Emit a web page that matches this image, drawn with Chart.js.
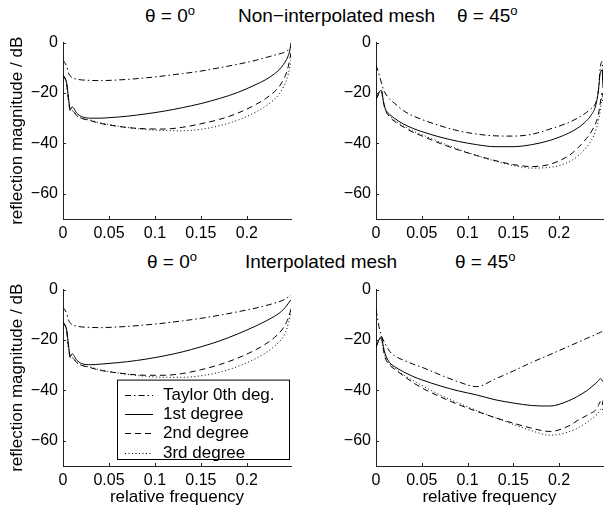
<!DOCTYPE html>
<html>
<head>
<meta charset="utf-8">
<script src="https://cdn.jsdelivr.net/npm/chart.js@4.4.0/dist/chart.umd.min.js"></script>
<style>
  body { margin: 0; background: #fff; }
  #fig { position: relative; width: 604px; height: 514px; font-family: "Liberation Sans", Arial, sans-serif; color: #000; }
  .panel { position: absolute; }
  .t { position: absolute; font-size: 19px; line-height: 20px; white-space: nowrap; }
  .t sup { font-size: 13px; vertical-align: 7px; line-height: 0; }
</style>
</head>
<body>
<div id="fig">
  <span class="t" style="left:145px;top:6px">θ = 0<sup>o</sup></span>
  <span class="t" style="left:238px;top:6px">Non−interpolated mesh</span>
  <span class="t" style="left:457px;top:6px">θ = 45<sup>o</sup></span>
  <span class="t" style="left:147px;top:252px">θ = 0<sup>o</sup></span>
  <span class="t" style="left:245px;top:252px">Interpolated mesh</span>
  <span class="t" style="left:455px;top:252px">θ = 45<sup>o</sup></span>

  <canvas class="panel" id="nonInt0" width="300" height="220" style="left:0;top:28px"></canvas>
  <canvas class="panel" id="nonInt45" width="304" height="220" style="left:300px;top:28px"></canvas>
  <canvas class="panel" id="int0" width="300" height="239" style="left:0;top:275px"></canvas>
  <canvas class="panel" id="int45" width="304" height="239" style="left:300px;top:275px"></canvas>
</div>

<script>
// relative frequency samples shared by all panels
const freq = [0, 0.002, 0.004, 0.006, 0.008, 0.01, 0.015, 0.02, 0.03, 0.04, 0.05, 0.07, 0.09, 0.11,
  0.13, 0.15, 0.17, 0.19, 0.21, 0.22, 0.23, 0.235, 0.24, 0.243, 0.245, 0.247, 0.248];

const seriesNames = ["Taylor 0th deg.", "1st degree", "2nd degree", "3rd degree"];
const xTicks = [0, 0.05, 0.1, 0.15, 0.2];
const yTicks = [-60, -40, -20, 0];

// non-interpolated mesh, theta = 0
const taylorNi0 = [-7, -8, -9.5, -12, -13.3, -14, -14.5, -14.8, -15, -15.1, -15, -14.6, -14, -13.2,
  -12.3, -11.3, -10, -8.6, -7, -6, -5, -4.5, -4, -3.4, -2.9, -2.2, -1.8];
const firstNi0 = [-13, -14, -16, -22, -26.5, -25.5, -28, -29.3, -30, -30, -29.8, -29.2, -28.3, -27.2,
  -25.8, -24.2, -22.2, -19.8, -16.6, -14.8, -12.4, -10.8, -8.6, -6.8, -5.2, -2.5, 0];
const secondNi0 = [-13, -14, -16.5, -23, -27, -27, -29, -30, -31, -32, -32.7, -33.7, -34.2, -34.3,
  -33.6, -32.2, -30.5, -28, -24.5, -22.3, -19.5, -17.5, -14.5, -12, -9.5, -6, -4];
const thirdNi0 = [-13, -14, -16.5, -23, -27, -27, -29, -30, -30.8, -31.8, -32.5, -33.7, -34.5, -34.9,
  -35, -34.4, -33, -30.8, -27.5, -25.3, -22.5, -20.5, -17.5, -15, -12.5, -9, -7];

// non-interpolated mesh, theta = 45
const taylorNi45 = [-9, -11, -13.5, -16, -18.5, -20, -22.5, -24, -27, -29, -30.5, -33, -35, -36.3,
  -37, -37.1, -36.4, -34.3, -31.8, -30, -27.7, -26.2, -24, -19, -10, -7.5, -16];
const firstNi45 = [-22.5, -21, -19.3, -19, -23, -26, -28.5, -30, -32.3, -34, -35.3, -37.5, -39.2, -40.5,
  -41.3, -41.3, -40.5, -38.8, -36, -34, -31, -28.8, -25, -19, -12, -11, -18];
const secondNi45 = [-22.5, -21, -19.5, -19.5, -23.5, -26.5, -29.5, -31.2, -33.5, -35.5, -37, -40, -42.6, -44.8,
  -46.8, -48.4, -49.2, -48.3, -45, -42, -38, -35.5, -32, -28.5, -24, -20, -22];
const thirdNi45 = [-22.5, -21, -19.5, -19.5, -23.5, -26.5, -29, -30.7, -33, -35, -36.5, -39.5, -42.3, -44.8,
  -47, -48.8, -49.8, -49.5, -47.5, -45.2, -41.5, -39, -35, -31, -27, -22, -24];

// interpolated mesh, theta = 0
const taylorIn0 = [-7, -8, -9.5, -12, -13.3, -14, -14.5, -14.8, -15, -15.1, -15, -14.6, -14, -13.3,
  -12.4, -11.4, -10.2, -8.8, -7.3, -6.4, -5.4, -4.8, -4.1, -3.5, -3, -2.5, -2.2];
const firstIn0 = [-13, -14, -16, -22, -26.5, -25.5, -28, -29.3, -29.8, -29.6, -29.3, -28.6, -27.6, -26.3,
  -24.7, -22.7, -20.4, -17.6, -14.4, -12.6, -10.6, -9.4, -7.8, -6.5, -5.5, -4.5, -4];
const secondIn0 = [-13, -14, -16.5, -23, -27, -27, -29, -30, -31, -32, -32.6, -33.5, -34, -34,
  -33.3, -31.8, -29.8, -27.2, -23.8, -21.7, -19, -17.3, -15, -13, -11.3, -9, -7.5];
const thirdIn0 = [-13, -14, -16.5, -23, -27, -27, -29, -30, -30.8, -31.8, -32.5, -33.6, -34.4, -34.8,
  -34.8, -34.2, -32.8, -30.5, -27.3, -25.2, -22.5, -20.8, -18.5, -16, -13.5, -10.5, -8.5];

// interpolated mesh, theta = 45
const taylorIn45 = [-8, -12, -16, -18.5, -20, -21.5, -24.5, -26.2, -28, -29.5, -30.8, -33.8, -36.6, -38.5,
  -35.5, -32.3, -28.9, -25.8, -22.6, -21, -19.4, -18.6, -17.8, -17.3, -17, -16.6, -16.4];
const firstIn45 = [-22.9, -21, -19.3, -18.7, -22.5, -25.5, -29, -30.5, -32.6, -34.4, -35.8, -38.2, -40.2, -41.8,
  -43.7, -45, -46, -46.2, -44.2, -42.4, -40.2, -38.8, -37.2, -36.2, -35.3, -36, -36.6];
const secondIn45 = [-22.9, -21, -19.5, -19.5, -23.5, -27, -30, -31.5, -34.2, -36.8, -39, -42.5, -45.6, -48.3,
  -50.8, -53, -55, -56.3, -54.2, -52, -50, -49, -47.8, -46, -44.5, -46, -44];
const thirdIn45 = [-22.9, -21, -19.5, -19.5, -23.5, -26.5, -29.5, -31, -33.8, -36, -38, -41.8, -45, -48,
  -50.8, -53.5, -56, -57.8, -56.5, -55, -52.8, -51.5, -50, -49, -47.5, -48, -47];

const dashes = [[6, 3, 1.5, 3], [], [6, 4], [1, 2.5]];
const fontFamily = '"Liberation Sans", Arial, sans-serif';

// small tick marks pointing into the plot, like the original
const innerTicks = {
  id: "innerTicks",
  afterDraw(chart) {
    const { ctx, chartArea, scales } = chart;
    ctx.save();
    ctx.strokeStyle = "#222";
    ctx.lineWidth = 1;
    ctx.beginPath();
    scales.x.ticks.forEach((t) => {
      const px = Math.round(scales.x.getPixelForValue(t.value)) + 0.5;
      ctx.moveTo(px, chartArea.bottom);
      ctx.lineTo(px, chartArea.bottom - 3);
    });
    scales.y.ticks.forEach((t) => {
      const py = Math.round(scales.y.getPixelForValue(t.value)) + 0.5;
      ctx.moveTo(chartArea.left, py);
      ctx.lineTo(chartArea.left + 3, py);
    });
    ctx.stroke();
    ctx.restore();
  },
};

// boxed legend inside the plot area
const boxLegend = {
  id: "boxLegend",
  afterDraw(chart, args, opts) {
    if (!opts.show) return;
    const { ctx, chartArea } = chart;
    const left = chartArea.left + 54;
    const right = chartArea.right - 2;
    const top = chartArea.top + 90;
    const bottom = chartArea.bottom - 7;
    ctx.save();
    ctx.fillStyle = "#fff";
    ctx.fillRect(left, top, right - left, bottom - top);
    ctx.strokeStyle = "#000";
    ctx.lineWidth = 1;
    ctx.strokeRect(left + 0.5, top + 0.5, right - left, bottom - top);
    ctx.font = "17px " + fontFamily;
    ctx.textBaseline = "middle";
    chart.data.datasets.forEach((ds, i) => {
      const y = Math.round(top + 15 + i * 19.3) + 0.5;
      ctx.setLineDash(ds.borderDash);
      ctx.beginPath();
      ctx.moveTo(left + 8, y);
      ctx.lineTo(left + 36, y);
      ctx.stroke();
      ctx.setLineDash([]);
      ctx.fillStyle = "#000";
      ctx.fillText(ds.label, left + 46, y);
    });
    ctx.restore();
  },
};

function makePanel(id, values, opt) {
  const ctx = document.getElementById(id).getContext("2d");
  return new Chart(ctx, {
    type: "line",
    data: {
      datasets: values.map((v, i) => ({
        label: seriesNames[i],
        data: freq.map((f, j) => ({ x: f, y: v[j] })),
        borderColor: "#000",
        borderWidth: 1,
        borderDash: dashes[i],
        pointRadius: 0,
        fill: false,
        cubicInterpolationMode: "monotone",
      })),
    },
    options: {
      responsive: false,
      animation: false,
      events: [],
      layout: { padding: { top: 12, right: opt.right, left: 0, bottom: 0 } },
      plugins: {
        legend: { display: false },
        tooltip: { enabled: false },
        boxLegend: { show: !!opt.legend },
      },
      scales: {
        x: {
          type: "linear",
          min: 0,
          max: 0.248,
          afterFit: (s) => { s.height = opt.xHeight; },
          afterBuildTicks: (s) => { s.ticks = xTicks.map((v) => ({ value: v })); },
          grid: { display: false, drawTicks: false },
          border: { display: true, color: "#222", width: 1 },
          ticks: {
            padding: 5,
            color: "#000",
            font: { size: 16, family: fontFamily },
            maxRotation: 0,
            callback: (v) => String(Math.round(v * 100) / 100),
          },
          title: {
            display: !!opt.xTitle,
            text: "relative frequency",
            color: "#000",
            font: { size: 17, family: fontFamily },
            padding: { top: 0, bottom: 6 },
          },
        },
        y: {
          min: -70,
          max: 0,
          afterFit: (s) => { s.width = opt.yWidth; },
          afterBuildTicks: (s) => { s.ticks = yTicks.map((v) => ({ value: v })); },
          grid: { display: false, drawTicks: false },
          border: { display: true, color: "#222", width: 1 },
          ticks: {
            padding: 5,
            color: "#000",
            font: { size: 16, family: fontFamily },
            callback: (v) => String(v).replace("-", "\u2212"),
          },
          title: {
            display: !!opt.yTitle,
            text: "reflection magnitude / dB",
            color: "#000",
            font: { size: 17, family: fontFamily },
            padding: { top: 7, bottom: 0 },
          },
        },
      },
    },
    plugins: [innerTicks, boxLegend],
  });
}

makePanel("nonInt0", [taylorNi0, firstNi0, secondNi0, thirdNi0],
  { right: 9, yWidth: 63, xHeight: 29, yTitle: true });
makePanel("nonInt45", [taylorNi45, firstNi45, secondNi45, thirdNi45],
  { right: 1, yWidth: 76, xHeight: 29 });
makePanel("int0", [taylorIn0, firstIn0, secondIn0, thirdIn0],
  { right: 9, yWidth: 63, xHeight: 48, yTitle: true, xTitle: true, legend: true });
makePanel("int45", [taylorIn45, firstIn45, secondIn45, thirdIn45],
  { right: 1, yWidth: 76, xHeight: 48, xTitle: true });
</script>
</body>
</html>
